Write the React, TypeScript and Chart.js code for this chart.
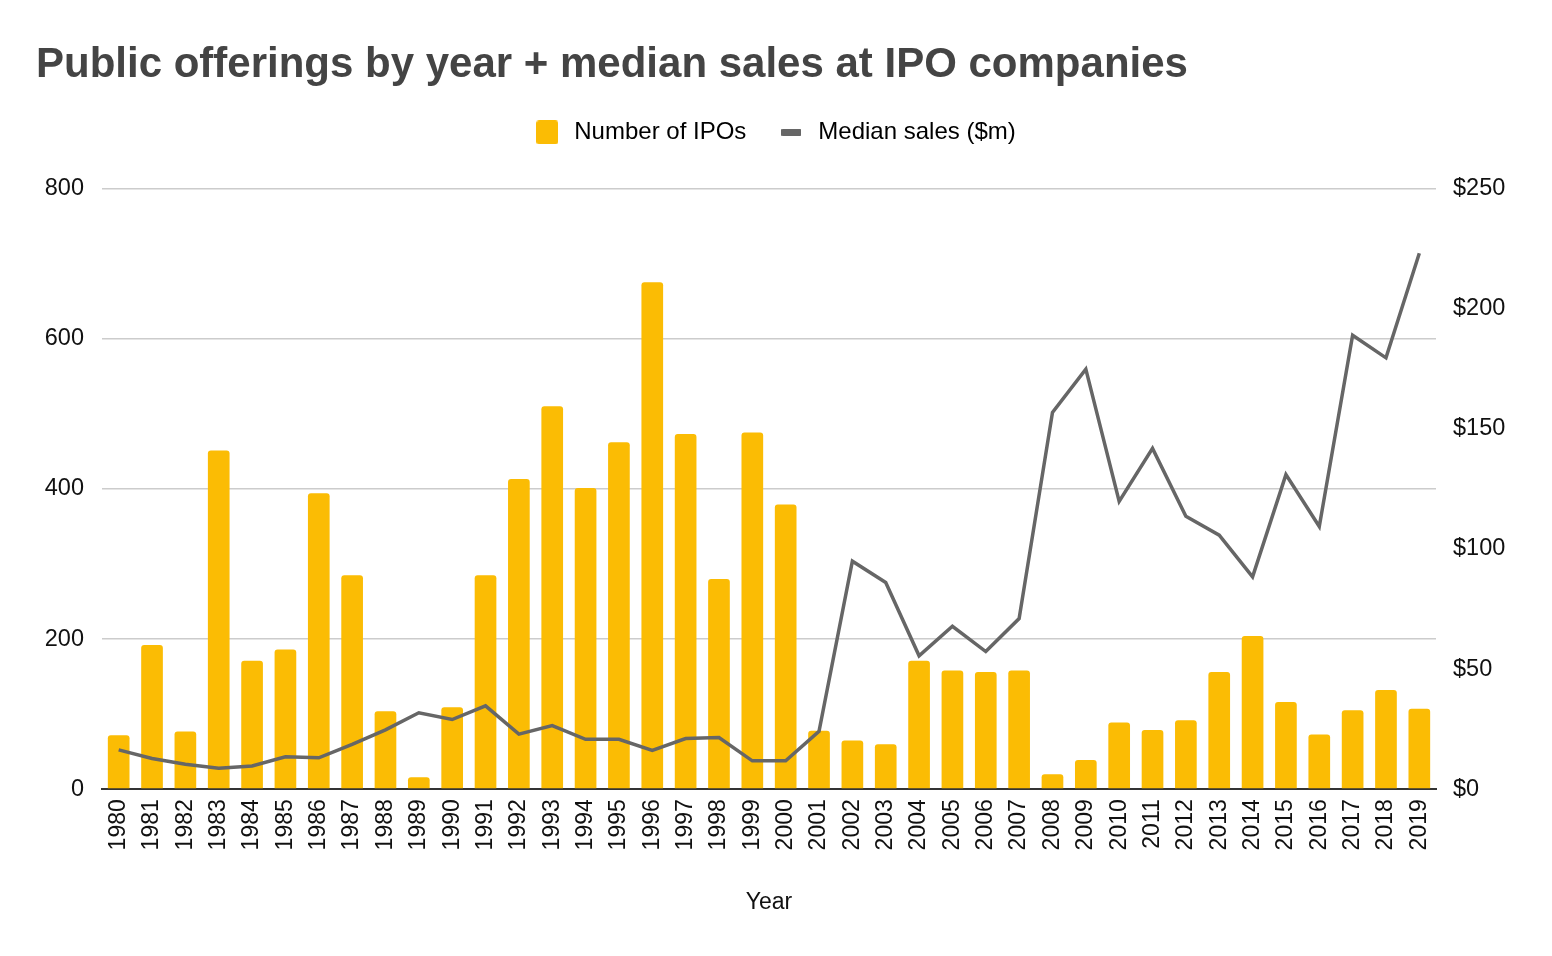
import React, { useEffect, useRef } from "react";
import { Chart, registerables } from "chart.js";

Chart.register(...registerables);

const years = [
  "1980","1981","1982","1983","1984","1985","1986","1987","1988","1989",
  "1990","1991","1992","1993","1994","1995","1996","1997","1998","1999",
  "2000","2001","2002","2003","2004","2005","2006","2007","2008","2009",
  "2010","2011","2012","2013","2014","2015","2016","2017","2018","2019",
];

const numberOfIPOs = [
  72, 192, 77, 451, 171, 186, 394, 285, 104, 16,
  109, 285, 413, 510, 401, 462, 675, 473, 280, 475,
  379, 78, 65, 60, 171, 158, 156, 158, 20, 39,
  89, 79, 92, 156, 204, 116, 73, 105, 132, 107,
];

const medianSales = [
  16.4, 12.8, 10.4, 8.7, 9.7, 13.5, 13.1, 18.7, 24.7, 31.8,
  29.0, 34.7, 22.9, 26.5, 20.8, 20.8, 16.2, 21.1, 21.5, 11.8,
  11.8, 24.1, 94.9, 86.0, 55.5, 67.8, 57.3, 71.0, 156.8, 174.8,
  119.8, 141.8, 113.6, 105.7, 88.4, 130.9, 109.3, 188.9, 179.5, 223.0,
];

const leftTicks = [0, 200, 400, 600, 800];
const rightTicks = [0, 50, 100, 150, 200, 250];

const TITLE = "Public offerings by year + median sales at IPO companies";
const BAR_COLOR = "#FBBC04";
const LINE_COLOR = "#666666";
const FONT = "'Liberation Sans', Arial, Helvetica, sans-serif";

function makeMarker(w: number, h: number, color: string, r: number) {
  const c = document.createElement("canvas");
  c.width = w;
  c.height = h;
  const ctx = c.getContext("2d")!;
  ctx.fillStyle = color;
  ctx.beginPath();
  if ((ctx as any).roundRect) (ctx as any).roundRect(0, 0, w, h, r);
  else ctx.rect(0, 0, w, h);
  ctx.fill();
  return c;
}

const legendSpacer = {
  id: "legendSpacer",
  beforeInit(chart: any) {
    const legend = chart.legend;
    if (!legend) return;
    const origFit = legend.fit;
    legend.fit = function () {
      origFit.call(this);
      this.height += 34;
    };
  },
};

export default function App() {
  const ref = useRef<HTMLCanvasElement | null>(null);

  useEffect(() => {
    document.body.style.margin = "0";
    const canvas = ref.current!;
    const barMarker = makeMarker(22, 24, BAR_COLOR, 3);
    const lineMarker = makeMarker(20, 7, LINE_COLOR, 1);

    const chart = new Chart(canvas, {
      data: {
        labels: years,
        datasets: [
          {
            type: "bar",
            label: "Number of IPOs",
            data: numberOfIPOs,
            backgroundColor: BAR_COLOR,
            borderRadius: 3,
            barPercentage: 0.65,
            categoryPercentage: 1.0,
            yAxisID: "y",
            order: 1,
          },
          {
            type: "line",
            label: "Median sales ($m)",
            data: medianSales,
            borderColor: LINE_COLOR,
            backgroundColor: LINE_COLOR,
            borderWidth: 3.5,
            pointRadius: 0,
            tension: 0,
            yAxisID: "y1",
            order: 0,
          },
        ],
      } as any,
      options: {
        responsive: false,
        animation: false,
        devicePixelRatio: 1,
        layout: { padding: { top: 40, left: 36, right: 40, bottom: 40 } },
        plugins: {
          tooltip: { enabled: false },
          title: {
            display: true,
            text: TITLE,
            align: "start",
            color: "#444444",
            font: { family: FONT, size: 42, weight: "bold" },
            padding: { top: 0, bottom: 0 },
          },
          legend: {
            display: true,
            position: "top",
            labels: {
              usePointStyle: true,
              pointStyleWidth: 30,
              boxHeight: 24,
              padding: 30,
              color: "#222222",
              font: { family: FONT, size: 24 },
              generateLabels: () => [
                { text: "Number of IPOs", pointStyle: barMarker, datasetIndex: 0, fillStyle: BAR_COLOR, strokeStyle: BAR_COLOR, lineWidth: 0, hidden: false } as any,
                { text: "Median sales ($m)", pointStyle: lineMarker, datasetIndex: 1, fillStyle: LINE_COLOR, strokeStyle: LINE_COLOR, lineWidth: 0, hidden: false } as any,
              ],
            },
          },
        },
        scales: {
          x: {
            grid: { display: false, drawTicks: false },
            border: { display: true, color: "#333333", width: 2 },
            ticks: {
              color: "#111111",
              font: { family: FONT, size: 23 },
              maxRotation: 90,
              minRotation: 90,
              autoSkip: false,
              padding: 10,
            },
            title: {
              display: true,
              text: "Year",
              color: "#111111",
              font: { family: FONT, size: 23 },
              padding: { top: 28, bottom: 0 },
            },
          },
          y: {
            position: "left",
            min: leftTicks[0],
            max: leftTicks[leftTicks.length - 1],
            afterBuildTicks: (scale: any) => {
              scale.ticks = leftTicks.map((v) => ({ value: v }));
            },
            afterFit: (scale: any) => {
              scale.width = 66;
            },
            grid: {
              drawTicks: false,
              color: (ctx: any) => (ctx.tick && ctx.tick.value === 0 ? "#333333" : "#cccccc"),
              lineWidth: (ctx: any) => (ctx.tick && ctx.tick.value === 0 ? 2 : 1.5),
            },
            border: { display: false },
            ticks: {
              color: "#111111",
              font: { family: FONT, size: 23.5 },
              padding: 18,
            },
          },
          y1: {
            position: "right",
            min: rightTicks[0],
            max: rightTicks[rightTicks.length - 1],
            afterBuildTicks: (scale: any) => {
              scale.ticks = rightTicks.map((v) => ({ value: v }));
            },
            afterFit: (scale: any) => {
              scale.width = 76;
            },
            grid: { display: false, drawTicks: false },
            border: { display: false },
            ticks: {
              color: "#111111",
              font: { family: FONT, size: 23.5 },
              padding: 17,
              callback: (v: any) => "$" + v,
            },
          },
        },
      } as any,
      plugins: [legendSpacer],
    });
    return () => chart.destroy();
  }, []);

  return (
    <div style={{ position: "absolute", left: 0, top: 0, width: 1552, height: 956, background: "#fff" }}>
      <canvas ref={ref} width={1552} height={956} style={{ width: 1552, height: 956, display: "block" }} />
    </div>
  );
}
